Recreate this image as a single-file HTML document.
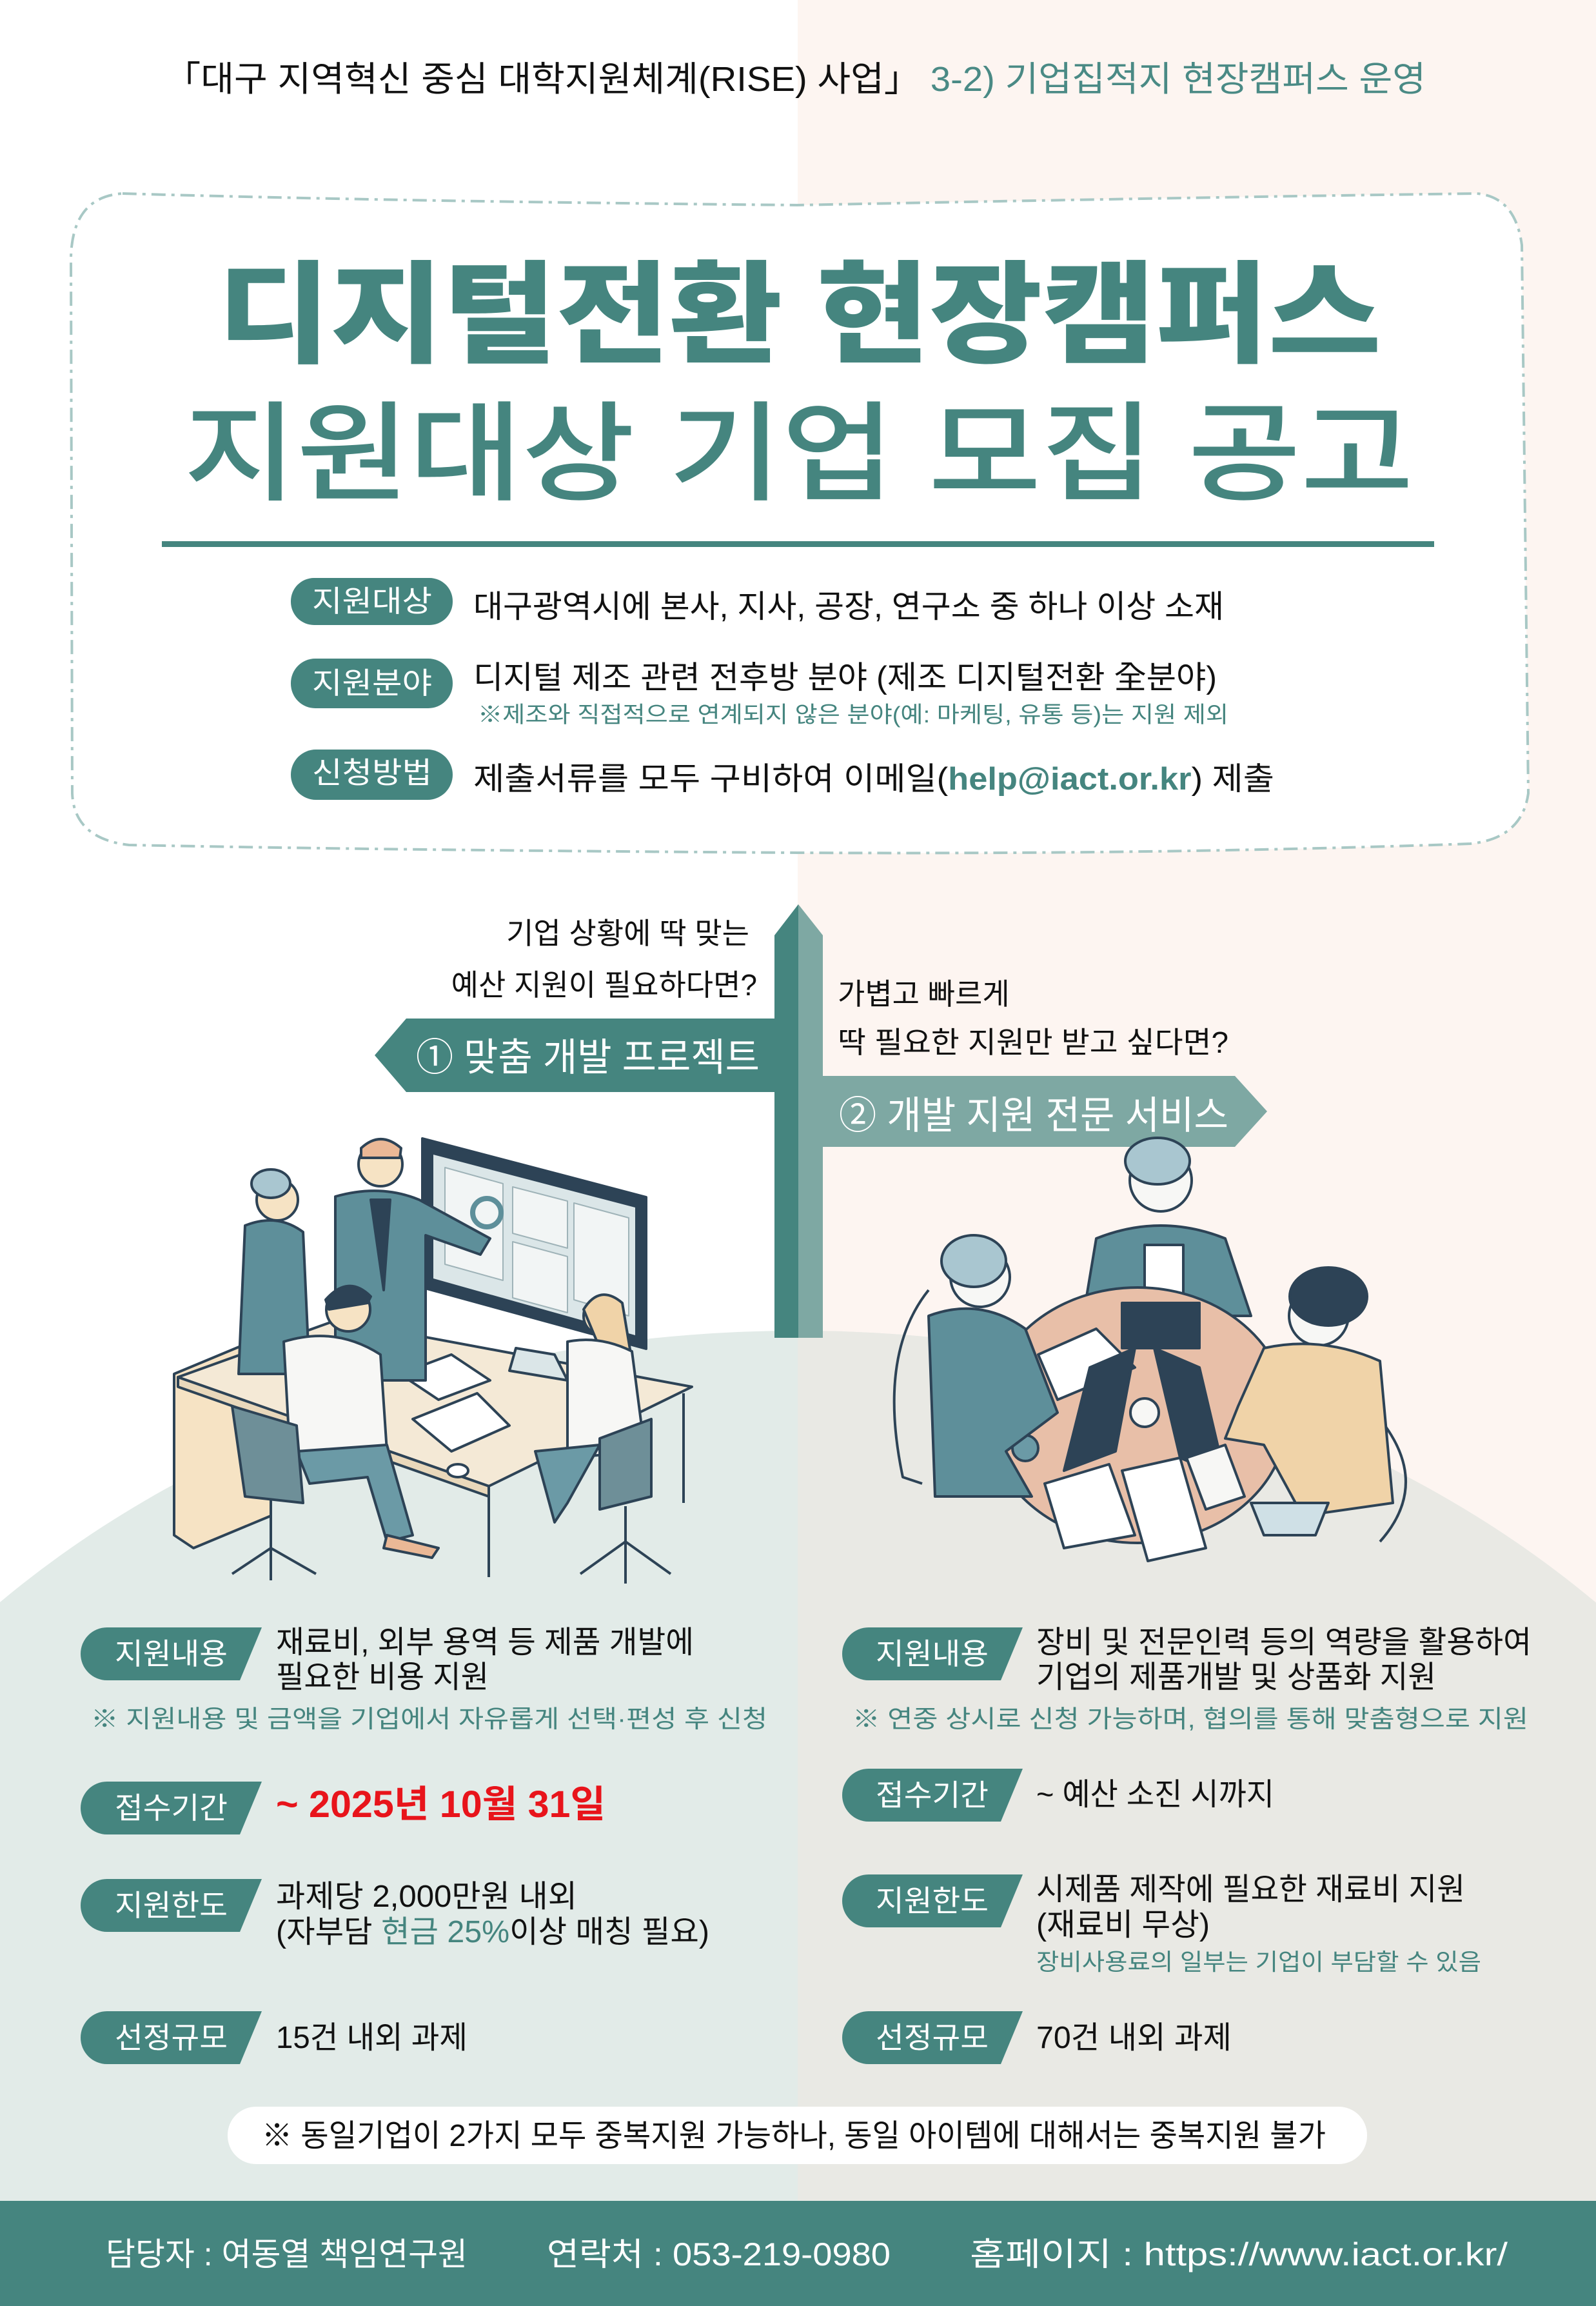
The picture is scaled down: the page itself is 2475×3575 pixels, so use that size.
<!DOCTYPE html>
<html><head><meta charset="utf-8">
<style>
html,body{margin:0;padding:0;background:#fff;width:2475px;height:3575px;overflow:hidden;}
svg{display:block;}
text{font-family:"Liberation Sans","Noto Sans CJK KR",sans-serif;}
</style></head>
<body>
<svg width="2475" height="3575" viewBox="0 0 2475 3575" xmlns="http://www.w3.org/2000/svg">
<defs>
<clipPath id="rh"><rect x="1237" y="0" width="1238" height="3575"/></clipPath>
</defs>
<rect x="0" y="0" width="2475" height="3575" fill="#ffffff"/>
<rect x="1237" y="0" width="1238" height="3575" fill="#fdf5f1"/>
<g>
<ellipse cx="1237" cy="3403" rx="1700" ry="1340" fill="#e2ebe8"/>
<rect x="0" y="3403" width="2475" height="172" fill="#e2ebe8"/>
</g>
<g clip-path="url(#rh)">
<ellipse cx="1237" cy="3403" rx="1700" ry="1340" fill="#e9e9e4"/>
<rect x="0" y="3403" width="2475" height="172" fill="#e9e9e4"/>
</g>

<text x="255" y="141" font-size="54" fill="#111" textLength="1956" lengthAdjust="spacingAndGlyphs">「대구 지역혁신 중심 대학지원체계(RISE) 사업」 <tspan fill="#4a8a85">3-2) 기업집적지 현장캠퍼스 운영</tspan></text>

<path d="M190,300 Q600,312 1237,318 Q1900,305 2290,300 Q2350,305 2360,380 L2370,1230 Q2360,1300 2280,1308 Q1800,1325 1237,1322 Q600,1318 200,1310 Q115,1300 112,1230 L110,400 Q112,305 190,300 Z" fill="#ffffff" stroke="#a8c8c5" stroke-width="4" stroke-dasharray="22 9 5 9"/>

<text x="337" y="548" font-size="172" font-weight="900" fill="#45857f" textLength="1805" lengthAdjust="spacingAndGlyphs">디지털전환 현장캠퍼스</text>
<text x="285" y="762" font-size="168" font-weight="500" fill="#45857f" textLength="1907" lengthAdjust="spacingAndGlyphs">지원대상 기업 모집 공고</text>
<rect x="251" y="839" width="1973" height="9" fill="#45857f"/>

<rect x="451" y="896" width="251" height="73" rx="36" fill="#45857f"/>
<text x="484" y="948" font-size="46" fill="#fff" textLength="186" lengthAdjust="spacingAndGlyphs">지원대상</text>
<text x="734" y="957" font-size="49" fill="#111" textLength="1164" lengthAdjust="spacingAndGlyphs">대구광역시에 본사, 지사, 공장, 연구소 중 하나 이상 소재</text>

<rect x="451" y="1021" width="251" height="77" rx="38" fill="#45857f"/>
<text x="484" y="1075" font-size="46" fill="#fff" textLength="186" lengthAdjust="spacingAndGlyphs">지원분야</text>
<text x="734" y="1067" font-size="49" fill="#111" textLength="1153" lengthAdjust="spacingAndGlyphs">디지털 제조 관련 전후방 분야 (제조 디지털전환 全분야)</text>
<text x="741" y="1120" font-size="35" fill="#45857f" textLength="1164" lengthAdjust="spacingAndGlyphs">※제조와 직접적으로 연계되지 않은 분야(예: 마케팅, 유통 등)는 지원 제외</text>

<rect x="451" y="1162" width="251" height="78" rx="39" fill="#45857f"/>
<text x="484" y="1214" font-size="46" fill="#fff" textLength="186" lengthAdjust="spacingAndGlyphs">신청방법</text>
<text x="734" y="1224" font-size="49" fill="#111" textLength="1242" lengthAdjust="spacingAndGlyphs">제출서류를 모두 구비하여 이메일(<tspan fill="#45857f" font-weight="700">help@iact.or.kr</tspan>) 제출</text>

<polygon points="1201,1450 1238,1402 1238,2074 1201,2074" fill="#45857f"/>
<polygon points="1238,1402 1276,1450 1276,2074 1238,2074" fill="#7ea8a3"/>
<text x="1162" y="1463" font-size="46" fill="#111" text-anchor="end">기업 상황에 딱 맞는</text>
<text x="1174" y="1543" font-size="46" fill="#111" text-anchor="end">예산 지원이 필요하다면?</text>
<polygon points="581,1636 630,1579 1201,1579 1201,1693 630,1693" fill="#45857f"/>
<text x="645" y="1660" font-size="60" fill="#fff" textLength="533" lengthAdjust="spacingAndGlyphs">① 맞춤 개발 프로젝트</text>
<text x="1299" y="1557" font-size="46" fill="#111">가볍고 빠르게</text>
<text x="1299" y="1632" font-size="46" fill="#111" textLength="606" lengthAdjust="spacingAndGlyphs">딱 필요한 지원만 받고 싶다면?</text>
<polygon points="1276,1668 1915,1668 1965,1723 1915,1778 1276,1778" fill="#7ea8a3"/>
<text x="1301" y="1750" font-size="60" fill="#fff" textLength="604" lengthAdjust="spacingAndGlyphs">② 개발 지원 전문 서비스</text>

<g stroke="#2d4356" stroke-width="4" stroke-linejoin="round">
<polygon points="270,2130 390,2080 420,2100 420,2350 300,2400 270,2380" fill="#f6e3c4"/>
<polygon points="276,2135 521,2047 1073,2150 758,2304" fill="#f4e9d6"/>
<polygon points="276,2135 758,2304 758,2320 276,2150" fill="#e9d8bb"/>
<line x1="758" y1="2320" x2="758" y2="2445"/>
<line x1="1060" y1="2160" x2="1060" y2="2330"/>
<polygon points="655,1765 1002,1856 1002,2091 655,1996" fill="#2d4356"/>
<polygon points="672,1790 985,1872 985,2070 672,1982" fill="#dbe6e8" stroke="none"/>
<polygon points="690,1810 780,1835 780,1985 690,1960" fill="#f2f5f5" stroke="#9fb3b8" stroke-width="2"/>
<polygon points="795,1840 880,1862 880,1935 795,1912" fill="#f2f5f5" stroke="#9fb3b8" stroke-width="2"/>
<polygon points="890,1865 975,1888 975,2040 890,2015" fill="#f2f5f5" stroke="#9fb3b8" stroke-width="2"/>
<polygon points="795,1925 880,1948 880,2035 795,2012" fill="#f2f5f5" stroke="#9fb3b8" stroke-width="2"/>
<circle cx="755" cy="1880" r="22" fill="none" stroke="#5e8f9a" stroke-width="8"/>
<polygon points="800,2090 860,2100 880,2140 790,2125" fill="#dbe6e8"/>
<polygon points="620,2130 700,2100 760,2140 680,2170" fill="#fff"/>
<polygon points="640,2200 740,2160 790,2210 700,2250" fill="#fff"/>
<ellipse cx="710" cy="2280" rx="16" ry="10" fill="#fff"/>
<circle cx="430" cy="1860" r="32" fill="#f6e3c4"/>
<ellipse cx="420" cy="1835" rx="30" ry="22" fill="#a9c6d0"/>
<path d="M380,1900 Q430,1880 470,1910 L480,2130 L370,2130 Z" fill="#5e8f9a"/>
<circle cx="590" cy="1805" r="34" fill="#f6e3c4"/>
<path d="M560,1780 Q590,1752 622,1780 L620,1795 L560,1795 Z" fill="#eab896"/>
<path d="M520,1855 Q590,1835 650,1860 L760,1920 L745,1945 L660,1915 L660,2140 L520,2140 Z" fill="#5e8f9a"/>
<polygon points="575,1860 605,1860 595,2000" fill="#2d4356"/>
<circle cx="540" cy="2030" r="34" fill="#f6e3c4"/>
<path d="M505,2015 Q540,1975 575,2010 L570,2020 L510,2030 Z" fill="#2d4356"/>
<path d="M440,2080 Q520,2055 590,2100 L600,2250 L450,2260 Z" fill="#f7f7f5"/>
<path d="M460,2250 L600,2240 L640,2380 L600,2390 L570,2290 L480,2300 Z" fill="#6b9aa6"/>
<polygon points="600,2380 680,2400 670,2415 595,2400" fill="#eab896"/>
<circle cx="935" cy="2040" r="30" fill="#f6e3c4"/>
<path d="M905,2030 Q930,1990 965,2020 L985,2140 L955,2150 Z" fill="#f0d3a8"/>
<path d="M880,2080 Q930,2070 980,2095 L1000,2250 L880,2260 Z" fill="#f7f7f5"/>
<path d="M830,2250 L930,2240 L880,2330 L860,2360 Z" fill="#6b9aa6"/>
<path d="M360,2180 L460,2210 L470,2330 L380,2320 Z" fill="#6e8f98"/>
<line x1="420" y1="2330" x2="420" y2="2400"/>
<path d="M360,2440 L420,2400 L490,2440 M420,2400 L420,2450"  fill="none"/>
<path d="M930,2230 L1010,2200 L1010,2320 L930,2340 Z" fill="#6e8f98"/>
<line x1="970" y1="2335" x2="970" y2="2390"/>
<path d="M900,2440 L970,2390 L1040,2440 M970,2390 L970,2455" fill="none"/>
</g>

<g stroke="#2d4356" stroke-width="4" stroke-linejoin="round">
<path d="M1440,2000 Q1360,2100 1400,2290 L1430,2300" fill="none"/>
<path d="M2140,2200 Q2220,2300 2140,2390" fill="none"/>
<circle cx="1800" cy="1830" r="48" fill="#f7f7f5"/>
<ellipse cx="1795" cy="1800" rx="50" ry="36" fill="#a9c6d0"/>
<path d="M1700,1920 Q1800,1880 1900,1920 L1940,2040 L1680,2040 Z" fill="#5e8f9a"/>
<rect x="1775" y="1930" width="60" height="100" fill="#fff"/>
<ellipse cx="1764" cy="2194" rx="233" ry="198" fill="#e8bfa8"/>
<polygon points="1610,2100 1700,2060 1760,2120 1640,2170" fill="#fff"/>
<polygon points="1690,2120 1760,2090 1730,2250 1650,2280" fill="#2d4356"/>
<polygon points="1790,2090 1860,2120 1900,2290 1830,2260" fill="#2d4356"/>
<rect x="1740" y="2020" width="120" height="70" fill="#2d4356"/>
<polygon points="1620,2300 1720,2270 1760,2380 1650,2400" fill="#fff"/>
<polygon points="1740,2280 1830,2260 1870,2400 1780,2420" fill="#fff"/>
<polygon points="1840,2260 1900,2240 1930,2320 1870,2340" fill="#f7f7f5"/>
<circle cx="1775" cy="2190" r="22" fill="#f7f7f5"/>
<circle cx="1590" cy="2245" r="20" fill="#6b9aa6"/>
<circle cx="1520" cy="1980" r="46" fill="#f7f7f5"/>
<ellipse cx="1510" cy="1955" rx="50" ry="40" fill="#a9c6d0"/>
<path d="M1440,2040 Q1520,2010 1590,2060 L1640,2190 L1560,2250 L1600,2320 L1450,2320 Z" fill="#5e8f9a"/>
<circle cx="2045" cy="2040" r="46" fill="#f7f7f5"/>
<ellipse cx="2060" cy="2010" rx="60" ry="45" fill="#2d4356"/>
<path d="M1960,2090 Q2050,2070 2140,2110 L2160,2330 L2020,2350 L1960,2240 L1900,2230 L1920,2180 Z" fill="#f0d3a8"/>
<path d="M1940,2330 L2060,2330 L2040,2380 L1960,2380 Z" fill="#cfe0e6"/>
</g>

<g fill="#45857f">
<path d="M166,2523 L406,2523 L372,2605 L166,2605 A41,41 0 0 1 166,2523 Z"/>
<path d="M166,2762 L406,2762 L372,2844 L166,2844 A41,41 0 0 1 166,2762 Z"/>
<path d="M166,2913 L406,2913 L372,2995 L166,2995 A41,41 0 0 1 166,2913 Z"/>
<path d="M166,3118 L406,3118 L372,3200 L166,3200 A41,41 0 0 1 166,3118 Z"/>
<path d="M1347,2523 L1586,2523 L1552,2605 L1347,2605 A41,41 0 0 1 1347,2523 Z"/>
<path d="M1347,2742 L1586,2742 L1552,2824 L1347,2824 A41,41 0 0 1 1347,2742 Z"/>
<path d="M1347,2906 L1586,2906 L1552,2988 L1347,2988 A41,41 0 0 1 1347,2906 Z"/>
<path d="M1347,3118 L1586,3118 L1552,3200 L1347,3200 A41,41 0 0 1 1347,3118 Z"/>
</g>
<g fill="#fff" font-size="46">
<text x="178" y="2580" textLength="175" lengthAdjust="spacingAndGlyphs">지원내용</text>
<text x="178" y="2819" textLength="175" lengthAdjust="spacingAndGlyphs">접수기간</text>
<text x="178" y="2970" textLength="175" lengthAdjust="spacingAndGlyphs">지원한도</text>
<text x="178" y="3175" textLength="175" lengthAdjust="spacingAndGlyphs">선정규모</text>
<text x="1358" y="2580" textLength="175" lengthAdjust="spacingAndGlyphs">지원내용</text>
<text x="1358" y="2799" textLength="175" lengthAdjust="spacingAndGlyphs">접수기간</text>
<text x="1358" y="2963" textLength="175" lengthAdjust="spacingAndGlyphs">지원한도</text>
<text x="1358" y="3175" textLength="175" lengthAdjust="spacingAndGlyphs">선정규모</text>
</g>

<g font-size="48" fill="#111">
<text x="428" y="2562" textLength="648" lengthAdjust="spacingAndGlyphs">재료비, 외부 용역 등 제품 개발에</text>
<text x="428" y="2616" textLength="330" lengthAdjust="spacingAndGlyphs">필요한 비용 지원</text>
<text x="141" y="2678" font-size="38" fill="#45857f" textLength="1049" lengthAdjust="spacingAndGlyphs">※ 지원내용 및 금액을 기업에서 자유롭게 선택·편성 후 신청</text>
<text x="428" y="2817" font-size="58" font-weight="700" fill="#e8141b" textLength="511" lengthAdjust="spacingAndGlyphs">~ 2025년 10월 31일</text>
<text x="428" y="2956" textLength="467" lengthAdjust="spacingAndGlyphs">과제당 2,000만원 내외</text>
<text x="428" y="3011" textLength="672" lengthAdjust="spacingAndGlyphs">(자부담 <tspan fill="#45857f">현금 25%</tspan>이상 매칭 필요)</text>
<text x="428" y="3175" textLength="297" lengthAdjust="spacingAndGlyphs">15건 내외 과제</text>

<text x="1607" y="2562" textLength="768" lengthAdjust="spacingAndGlyphs">장비 및 전문인력 등의 역량을 활용하여</text>
<text x="1607" y="2616" textLength="620" lengthAdjust="spacingAndGlyphs">기업의 제품개발 및 상품화 지원</text>
<text x="1322" y="2678" font-size="38" fill="#45857f" textLength="1048" lengthAdjust="spacingAndGlyphs">※ 연중 상시로 신청 가능하며, 협의를 통해 맞춤형으로 지원</text>
<text x="1607" y="2798" textLength="369" lengthAdjust="spacingAndGlyphs">~ 예산 소진 시까지</text>
<text x="1607" y="2945" textLength="665" lengthAdjust="spacingAndGlyphs">시제품 제작에 필요한 재료비 지원</text>
<text x="1607" y="3000" textLength="269" lengthAdjust="spacingAndGlyphs">(재료비 무상)</text>
<text x="1607" y="3054" font-size="36" fill="#45857f" textLength="690" lengthAdjust="spacingAndGlyphs">장비사용료의 일부는 기업이 부담할 수 있음</text>
<text x="1607" y="3175" textLength="303" lengthAdjust="spacingAndGlyphs">70건 내외 과제</text>
</g>

<rect x="353" y="3266" width="1767" height="89" rx="44" fill="#fff"/>
<text x="406" y="3327" font-size="48" fill="#111" textLength="1650" lengthAdjust="spacingAndGlyphs">※ 동일기업이 2가지 모두 중복지원 가능하나, 동일 아이템에 대해서는 중복지원 불가</text>

<rect x="0" y="3412" width="2475" height="163" fill="#45857f"/>
<g fill="#fff" font-size="50">
<text x="164" y="3512" textLength="561" lengthAdjust="spacingAndGlyphs">담당자 : 여동열 책임연구원</text>
<text x="848" y="3512" textLength="533" lengthAdjust="spacingAndGlyphs">연락처 : 053-219-0980</text>
<text x="1504" y="3512" textLength="834" lengthAdjust="spacingAndGlyphs">홈페이지 : https://www.iact.or.kr/</text>
</g>
</svg>
</body></html>
